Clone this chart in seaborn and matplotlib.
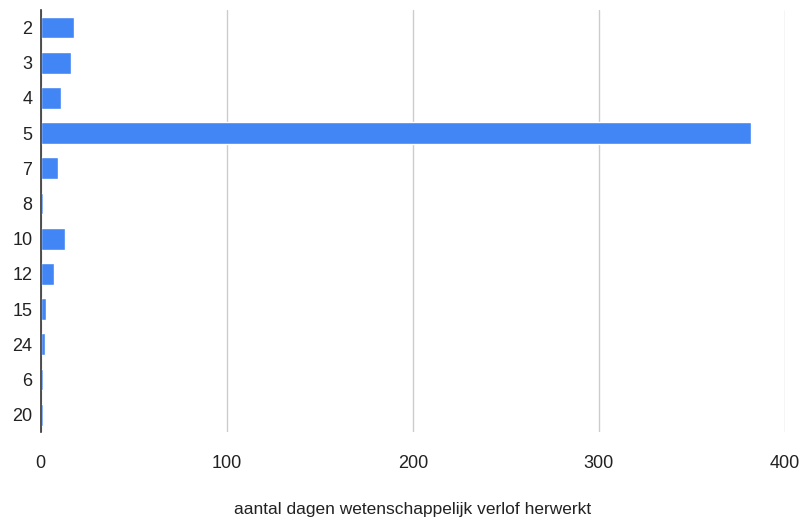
import pandas as pd
import matplotlib
matplotlib.use("Agg")
import matplotlib.pyplot as plt
import seaborn as sns

# categories (days) and counts, in the order shown
categories = ["2", "3", "4", "5", "7", "8", "10", "12", "15", "24", "6", "20"]
counts = [18, 16, 11, 382, 9, 1, 13, 7, 3, 2, 1, 1]
xticks = [0, 100, 200, 300, 400]

df = pd.DataFrame({"dagen": categories, "aantal": counts})

sns.set_style("white")
plt.rcParams['font.family'] = ['Liberation Sans', 'DejaVu Sans']

fig, ax = plt.subplots(figsize=(8, 5.24), dpi=100)
sns.barplot(data=df, y="dagen", x="aantal", order=categories,
            color="#4285f4", saturation=1, width=0.62, ax=ax)

ax.set_xlim(0, 400)
ax.set_xticks(xticks)
ax.grid(axis="x", color="#cccccc", linewidth=1)
ax.set_axisbelow(True)
for s in ["top", "right", "bottom"]:
    ax.spines[s].set_visible(False)
ax.spines["left"].set_color("#333333")
ax.spines["left"].set_linewidth(1.2)
ax.tick_params(axis="both", length=0, labelsize=13, colors="#222222")
ax.tick_params(axis="x", pad=16)
ax.tick_params(axis="y", pad=6)
ax.set_ylabel("")
ax.set_xlabel("aantal dagen wetenschappelijk verlof herwerkt",
              fontsize=12.5, color="#222222", labelpad=22)

plt.subplots_adjust(left=0.051, right=0.981, top=0.981, bottom=0.175)
plt.savefig("out.png", dpi=100)
